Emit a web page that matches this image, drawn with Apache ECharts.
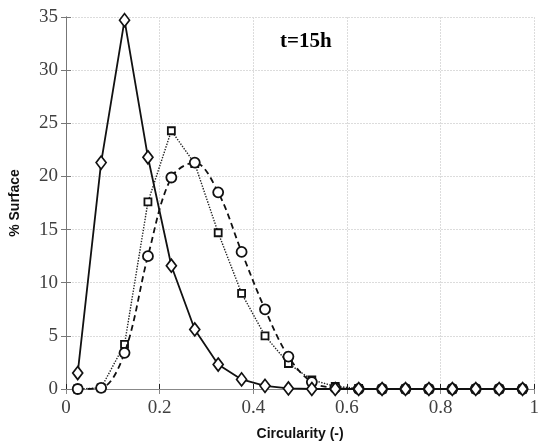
<!DOCTYPE html>
<html>
<head>
<meta charset="utf-8">
<script src="https://cdn.jsdelivr.net/npm/echarts@6/dist/echarts.min.js"></script>
<style>html,body{margin:0;padding:0;background:#fff}#c{width:542px;height:448px}</style>
</head>
<body>
<div id="c"></div>
<script>
const xs = [0.025,0.075,0.125,0.175,0.225,0.275,0.325,0.375,0.425,0.475,0.525,0.575,0.625,0.675,0.725,0.775,0.825,0.875,0.925,0.975];
const diamondVals = [1.5,21.3,34.7,21.8,11.6,5.6,2.3,0.9,0.3,0.05,0,0,0,0,0,0,0,0,0,0];
const squareVals  = [0,0.1,4.2,17.6,24.3,21.2,14.7,9.0,5.0,2.4,0.85,0.25,0.05,0,0,0,0,0,0,0];
const circleVals  = [0,0.1,3.4,12.5,19.9,21.3,18.5,12.9,7.5,3.05,0.65,0.1,0,0,0,0,0,0,0,0];
const xTicks = [0,0.2,0.4,0.6,0.8,1];
const yTicks = [0,5,10,15,20,25,30,35];
const annotation = 't=15h';
const xTitle = 'Circularity (-)';
const yTitle = '% Surface';

const pairs = v => xs.map((x,i)=>[x,v[i]]);
const chart = echarts.init(document.getElementById('c'));
const tickFont = {fontFamily:'Liberation Serif', fontSize:19, color:'#404040'};
chart.setOption({
  animation:false,
  grid:{left:64,right:2,top:17,bottom:59},
  title:{text:annotation,left:275,top:26,textStyle:{fontFamily:'Liberation Serif',fontWeight:'bold',fontSize:21,color:'#000'}},
  xAxis:[{
    type:'value',min:xTicks[0],max:xTicks[xTicks.length-1],interval:0.2,
    name:xTitle,nameLocation:'middle',nameGap:38,
    nameTextStyle:{fontFamily:'Liberation Sans',fontWeight:'bold',fontSize:14,color:'#111'},
    axisLine:{lineStyle:{color:'#222',width:1}},
    axisTick:{inside:true,length:5,lineStyle:{color:'#222'}},
    axisLabel:{...tickFont,margin:10},
    splitLine:{show:true,lineStyle:{color:'#dcdcdc',width:1,type:[2,1]}}
  },{
    type:'value',position:'top',min:0,max:1,interval:0.2,
    axisLine:{show:true,lineStyle:{color:'#888'}},
    axisTick:{show:true,inside:true,length:5,lineStyle:{color:'#888'}},
    axisLabel:{show:false},splitLine:{show:false}
  }],
  yAxis:[{
    type:'value',min:yTicks[0],max:yTicks[yTicks.length-1],interval:5,
    name:yTitle,nameLocation:'middle',nameGap:44,
    nameTextStyle:{fontFamily:'Liberation Sans',fontWeight:'bold',fontSize:14,color:'#111'},
    axisLine:{show:true,lineStyle:{color:'#777'}},
    axisTick:{show:true,inside:true,length:5,lineStyle:{color:'#777'}},
    axisLabel:{...tickFont,margin:8},
    splitLine:{show:true,lineStyle:{color:'#dcdcdc',width:1,type:[2,1]}}
  },{
    type:'value',position:'right',min:0,max:35,interval:5,
    axisLine:{show:true,lineStyle:{color:'#777'}},
    axisTick:{show:true,inside:true,length:5,lineStyle:{color:'#777'}},
    axisLabel:{show:false},splitLine:{show:false}
  }],
  series:[
    {type:'line',data:pairs(squareVals),symbol:'rect',symbolSize:7,z:3,
     lineStyle:{color:'#222',width:1.4,type:'dotted'},
     itemStyle:{color:'#fff',borderColor:'#111',borderWidth:1.8}},
    {type:'line',data:pairs(circleVals),symbol:'circle',symbolSize:10,smooth:0.35,z:4,
     lineStyle:{color:'#111',width:1.8,type:[6,4]},
     itemStyle:{color:'#fff',borderColor:'#111',borderWidth:1.8}},
    {type:'line',data:pairs(diamondVals),symbol:'diamond',symbolSize:[10,13],z:5,
     lineStyle:{color:'#111',width:1.8,type:'solid'},
     itemStyle:{color:'#fff',borderColor:'#111',borderWidth:1.7}}
  ]
});
</script>
</body>
</html>
